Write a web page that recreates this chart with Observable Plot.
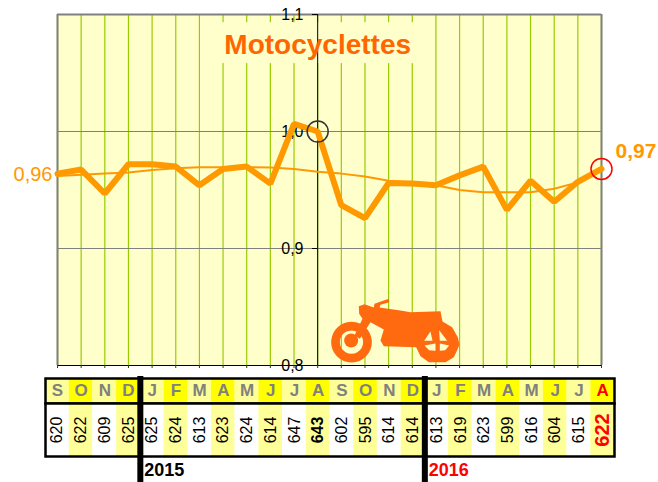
<!DOCTYPE html>
<html>
<head>
<meta charset="utf-8">
<script src="https://cdn.jsdelivr.net/npm/d3@7"></script>
<script src="https://cdn.jsdelivr.net/npm/@observablehq/plot@0.6"></script>
<style>
html,body{margin:0;padding:0;background:#fff;}
#chart{position:relative;width:658px;height:482px;overflow:hidden;font-family:"Liberation Sans",Arial,sans-serif;}
#chart svg{position:absolute;left:0;overflow:visible;background:transparent;}
</style>
</head>
<body>
<div id="chart"></div>
<script>
const title = "Motocyclettes";
const months = ["S","O","N","D","J","F","M","A","M","J","J","A","S","O","N","D","J","F","M","A","M","J","J","A"];
const counts = [620,622,609,625,625,624,613,623,624,614,647,643,602,595,614,614,613,619,623,599,616,604,615,622];
const ratio = [0.964,0.9675,0.947,0.972,0.972,0.970,0.954,0.968,0.970,0.9555,1.0065,1.000,0.937,0.926,0.956,0.9555,0.954,0.9625,0.970,0.933,0.958,0.940,0.957,0.968];
const trend = [0.962,0.963,0.964,0.965,0.967,0.9685,0.9695,0.9695,0.9695,0.9692,0.968,0.9655,0.964,0.9615,0.958,0.956,0.954,0.950,0.948,0.948,0.948,0.951,0.9565,0.968];
const yTicks = [0.8,0.9,1.0,1.1];
const years = [{at:4,label:"2015",color:"#000"},{at:16,label:"2016",color:"#f00"}];
const idx = months.map((_,i)=>i);
const comma = d => d3.format(".1f")(d).replace(".",",");
const comma2 = d => d3.format(".2f")(d).replace(".",",");
const FONT = '"Liberation Sans",Arial,sans-serif';
const ORANGE = "#FF9900", TITLE = "#FF6600";

const bike = `<svg xmlns="http://www.w3.org/2000/svg" viewBox="0 0 450 270" width="150" height="90">
<g fill="#FF6A10" stroke="none">
<path fill-rule="evenodd" d="M93 109a61 61 0 1 0 .1 0zM93 135a35 35 0 1 1 -.1 0z"/>
<circle cx="92" cy="165" r="21"/>
<path d="M115 62L132 56L160 66L162 55L205 40L206 50L180 58L177 66L240 75L270 80L360 77L366 108L395 125L412 155L417 178L412 190L400 215L375 230L325 230L300 212L287 185L190 182L180 165L190 132L150 110L118 160L102 150L126 100L116 85Z"/>
</g>
<g fill="#FFFFCC" stroke="none">
<path d="M311 166L330 138L336 166Z"/>
<path d="M356 134L380 166L358 166Z"/>
<path d="M312 180L345 174L345 196L326 194Z"/>
<path d="M358 174L386 180L374 194L358 196Z"/>
</g></svg>`;
const bikeSrc = "data:image/svg+xml," + encodeURIComponent(bike);

const main = Plot.plot({
  width:658, height:370,
  marginLeft:57, marginRight:57, marginTop:14, marginBottom:5,
  style:{background:"transparent",overflow:"visible",fontFamily:FONT},
  x:{type:"linear",domain:[0,23],axis:null},
  y:{type:"linear",domain:[0.8,1.1],axis:null},
  marks:[
    Plot.rect([0],{x1:0,x2:23,y1:0.8,y2:1.1,fill:"#FFFFCC"}),
    Plot.ruleX(idx,{stroke:"#99CC00",strokeWidth:1.2}),
    Plot.ruleY([0.9,1.0],{stroke:"#808080",strokeWidth:1}),
    Plot.rect([0],{x1:6.97,x2:15.05,y1:1.058,y2:1.093,fill:"#FFFFCC"}),
    Plot.ruleX([0,23],{stroke:"#808080",strokeWidth:2}),
    Plot.ruleY([1.1],{stroke:"#808080",strokeWidth:2}),
    Plot.ruleY([0.8],{stroke:"#000",strokeWidth:1}),
    Plot.axisX({ticks:idx,tickSize:3,tickFormat:()=>"",stroke:"#333",label:null}),
    Plot.image([0],{x:14.29,y:0.8299,width:150,height:90,src:()=>bikeSrc}),
    Plot.ruleX([11],{stroke:"#000",strokeWidth:1}),
    Plot.axisY({ticks:yTicks,tickFormat:comma,anchor:"left",dx:260,tickSize:5,stroke:"#000",label:null,fontSize:16,fill:"#000",tickPadding:9}),
    Plot.line(idx,{x:d=>d,y:i=>trend[i],stroke:ORANGE,strokeWidth:2}),
    Plot.line(idx,{x:d=>d,y:i=>ratio[i],stroke:ORANGE,strokeWidth:6,strokeLinejoin:"miter"}),
    Plot.dot([11],{x:d=>d,y:i=>ratio[i],r:10.5,stroke:"#333",strokeWidth:1.5,fill:"none"}),
    Plot.dot([23],{x:d=>d,y:i=>ratio[i],r:10.5,stroke:"#f00",strokeWidth:1.5,fill:"none"}),
    Plot.text([title],{x:11,y:1.0735,text:d=>d,fontSize:28,fontWeight:"bold",fill:TITLE,fontFamily:FONT}),
    Plot.text([trend[0]],{x:0,y:d=>d,dx:-5,dy:-1,text:comma2,textAnchor:"end",fontSize:20,fill:ORANGE,fontFamily:FONT}),
    Plot.text([ratio[23]],{x:23,y:d=>d,dx:14,dy:-18,text:comma2,textAnchor:"start",fontSize:21,fontWeight:"bold",fill:ORANGE,fontFamily:FONT})
  ]
});
main.style.top="0px";

function strip(top,height,marks,x){
  const p = Plot.plot({
    width:658,height,margin:0,marginLeft:45,marginRight:44,
    style:{background:"transparent",overflow:"visible",fontFamily:FONT},
    x:{axis:null,...x},y:{type:"linear",axis:null,domain:[0,1]},
    marks
  });
  p.style.top=top+"px";
  return p;
}
const band = {type:"band",domain:idx,padding:0,round:false};

const header = strip(378,25,[
  Plot.barY(idx,{x:d=>d,y1:0,y2:1,fill:i=>i%2?"#FFFF00":"#FFFF99"}),
  Plot.text(idx,{x:d=>d,y:()=>0.5,text:i=>months[i],fontSize:17,fontWeight:"bold",fontFamily:FONT,fill:i=>i===23?"#f00":"#808080"}),
  Plot.frame({stroke:"#000",strokeWidth:2.5})
],band);

const normalRows = idx.filter(i=>i!==11&&i!==23);
const values = strip(403,53,[
  Plot.barY(idx,{x:d=>d,y1:0,y2:1,fill:i=>i%2?"#FFFF99":"#FFFFFF"}),
  Plot.text(normalRows,{x:d=>d,y:()=>0.5,text:i=>String(counts[i]),rotate:-90,fontFamily:FONT,fontSize:16,fill:"#000"}),
  Plot.text([11],{x:d=>d,y:()=>0.5,text:i=>String(counts[i]),rotate:-90,fontFamily:FONT,fontSize:16,fontWeight:"bold",fill:"#000"}),
  Plot.text([23],{x:d=>d,y:()=>0.5,text:i=>String(counts[i]),rotate:-90,fontFamily:FONT,fontSize:20,fontWeight:"bold",fill:"#f00"}),
  Plot.frame({stroke:"#000",strokeWidth:2.5})
],band);

const overlay = strip(376,106,[
  Plot.ruleX(years,{x:"at",stroke:"#000",strokeWidth:6}),
  Plot.text(years,{x:"at",y:()=>0.12,dx:4,text:"label",textAnchor:"start",fontSize:18,fontWeight:"bold",fontFamily:FONT,fill:"color"})
],{type:"linear",domain:[0,24]});

const root=document.getElementById("chart");
[main,header,values,overlay].forEach(n=>root.appendChild(n));
</script>
</body>
</html>
